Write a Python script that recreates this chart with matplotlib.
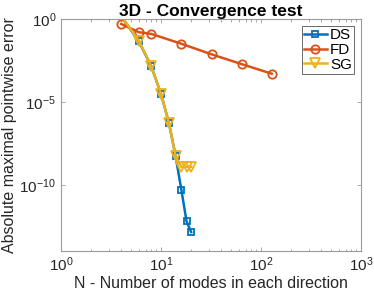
import matplotlib
matplotlib.use("Agg")
import matplotlib.pyplot as plt
import numpy as np
from matplotlib.ticker import LogLocator, NullLocator, NullFormatter

plt.rcParams['font.family'] = ['Liberation Sans', 'DejaVu Sans']
plt.rcParams['mathtext.fontset'] = 'custom'
plt.rcParams['mathtext.rm'] = 'Liberation Sans'

N_ds = [4, 6, 8, 10, 12, 14, 16, 18, 20]
err_ds = [1.5, 0.045, 1.4e-3, 3.0e-5, 5.4e-7, 5.2e-9, 4.7e-11, 6.3e-13, 1.4e-13]

N_fd = [4, 6, 8, 16, 32, 64, 128]
err_fd = [0.5, 0.16, 0.126, 0.032, 0.0074, 0.0019, 0.00050]

N_sg = [4, 6, 8, 10, 12, 14, 16, 18, 20]
err_sg = [1.5, 0.05, 1.4e-3, 3.0e-5, 5.4e-7, 5.2e-9, 1.2e-9, 1.2e-9, 1.2e-9]

c_ds = '#0072BD'
c_fd = '#D95319'
c_sg = '#EDB120'

fig = plt.figure(figsize=(3.74, 2.96), dpi=100)
ax = fig.add_axes([61/374, 1-251/296, 300/374, 232/296])

ax.plot(N_ds, err_ds, '-s', color=c_ds, lw=1.8, ms=5, mfc='none', mew=1.3, markevery=list(range(1, len(N_ds))), label='DS')
ax.plot(N_fd, err_fd, '-o', color=c_fd, lw=1.8, ms=6, mfc='none', mew=1.3, label='FD')
ax.plot(N_sg, err_sg, '-v', color=c_sg, lw=1.8, ms=7, mfc='none', mew=1.3, markevery=list(range(1, len(N_sg))), label='SG')

ax.set_xscale('log')
ax.set_yscale('log')
ax.set_xlim(1, 1000)
ax.set_ylim(1e-14, 1)
ax.set_xticks([1, 10, 100, 1000])
ax.xaxis.set_minor_locator(LogLocator(base=10, subs=np.arange(2, 10)))
ax.xaxis.set_minor_formatter(NullFormatter())
ax.set_yticks([1e-10, 1e-5, 1])
ax.yaxis.set_minor_locator(NullLocator())

tc = '#262626'
for s in ax.spines.values():
    s.set_color('#9a9a9a')
    s.set_linewidth(0.8)
ax.tick_params(which='both', direction='in', top=True, right=True, colors='#9a9a9a', labelcolor=tc, labelsize=11)
ax.tick_params(which='major', length=3, width=0.6)
ax.tick_params(which='minor', length=1.8, width=0.6)

ax.set_xlabel('N - Number of modes in each direction', fontsize=11.5, color=tc, labelpad=1)
ax.set_ylabel('Absolute maximal pointwise error', fontsize=11.5, color=tc, labelpad=2)
ax.set_title('3D - Convergence test', fontsize=12.5, fontweight='bold', color='black', pad=2)

leg = ax.legend(loc='upper right', fontsize=11, frameon=True, fancybox=False, borderpad=0.15,
                labelspacing=0.05, handlelength=1.5, handletextpad=0.2, borderaxespad=0.45)
leg.get_frame().set_edgecolor(tc)
leg.get_frame().set_linewidth(0.6)

fig.savefig('out.png', dpi=100)
